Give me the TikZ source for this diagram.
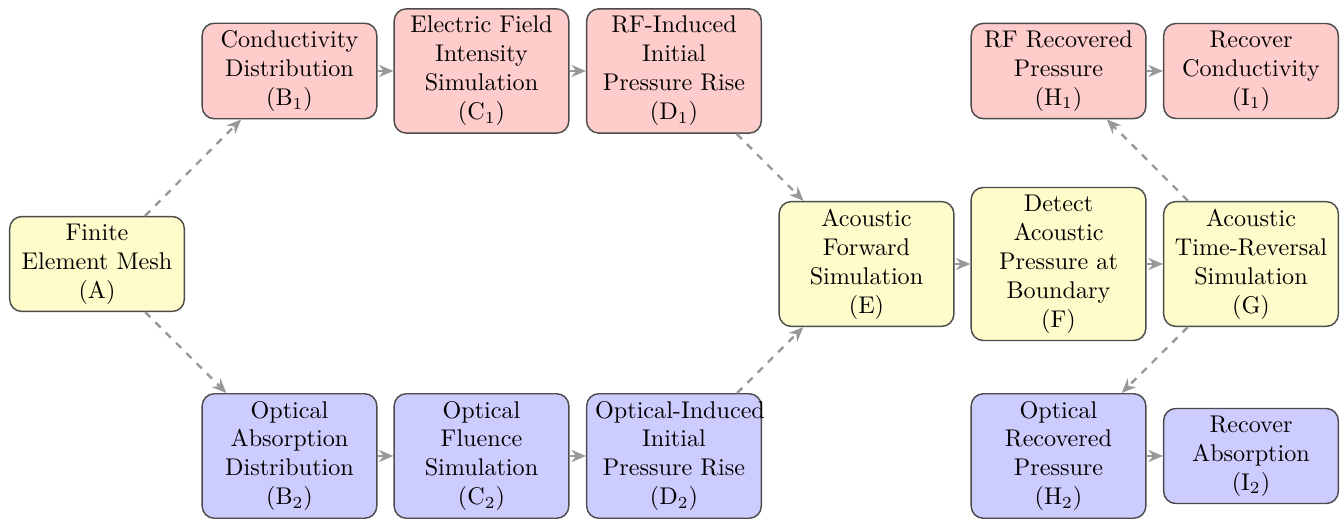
\documentclass[tikz,border=0pt]{standalone}
\usetikzlibrary{arrows.meta}
\begin{document}
\begin{tikzpicture}[x=0.414pt,y=-0.414pt,
  box/.style={draw=black!70,semithick,rounded corners=5pt,text width=65.3pt,align=center,inner xsep=3.5pt,inner ysep=3pt,font=\normalsize},
  redbox/.style={box,fill=red!20},
  yelbox/.style={box,fill=yellow!20},
  bluebox/.style={box,fill=blue!20},
  flow/.style={draw=black!40,line width=1pt,-{Stealth[length=6pt,width=5pt]}},
  dflow/.style={flow,dashed}]
\useasboundingbox (0,0) rectangle (1344,519);
% row 1
\node[redbox] (B1) at (289.5,71) {Conductivity\\Distribution\\(B$_1$)};
\node[redbox] (C1) at (481.5,71) {Electric Field\\Intensity\\Simulation\\(C$_1$)};
\node[redbox] (D1) at (674,71) {RF-Induced\\Initial\\Pressure Rise\\(D$_1$)};
\node[redbox] (H1) at (1058.5,71) {RF Recovered\\Pressure\\(H$_1$)};
\node[redbox] (I1) at (1251,71) {Recover\\Conductivity\\(I$_1$)};
% row 2
\node[yelbox] (A) at (97,264) {Finite\\Element Mesh\\(A)};
\node[yelbox] (E) at (866.5,264) {Acoustic\\Forward\\Simulation\\(E)};
\node[yelbox] (F) at (1058.5,264) {Detect\\Acoustic\\Pressure at\\Boundary\\(F)};
\node[yelbox] (G) at (1251,264) {Acoustic\\Time-Reversal\\Simulation\\(G)};
% row 3
\node[bluebox] (B2) at (289.5,456) {Optical\\Absorption\\Distribution\\(B$_2$)};
\node[bluebox] (C2) at (481.5,456) {Optical\\Fluence\\Simulation\\(C$_2$)};
\node[bluebox] (D2) at (674,456) {\mbox{Optical-Induced}\\Initial\\Pressure Rise\\(D$_2$)};
\node[bluebox] (H2) at (1058.5,456) {Optical\\Recovered\\Pressure\\(H$_2$)};
\node[bluebox] (I2) at (1251,456) {Recover\\Absorption\\(I$_2$)};
% connectors
\draw[dflow] (A) -- (B1);
\draw[dflow] (A) -- (B2);
\draw[flow] (B1) -- (C1);
\draw[flow] (C1) -- (D1);
\draw[flow] (B2) -- (C2);
\draw[flow] (C2) -- (D2);
\draw[dflow] (D1) -- (E);
\draw[dflow] (D2) -- (E);
\draw[flow] (E) -- (F);
\draw[flow] (F) -- (G);
\draw[dflow] (G) -- (H1);
\draw[dflow] (G) -- (H2);
\draw[flow] (H1) -- (I1);
\draw[flow] (H2) -- (I2);
\end{tikzpicture}
\end{document}
